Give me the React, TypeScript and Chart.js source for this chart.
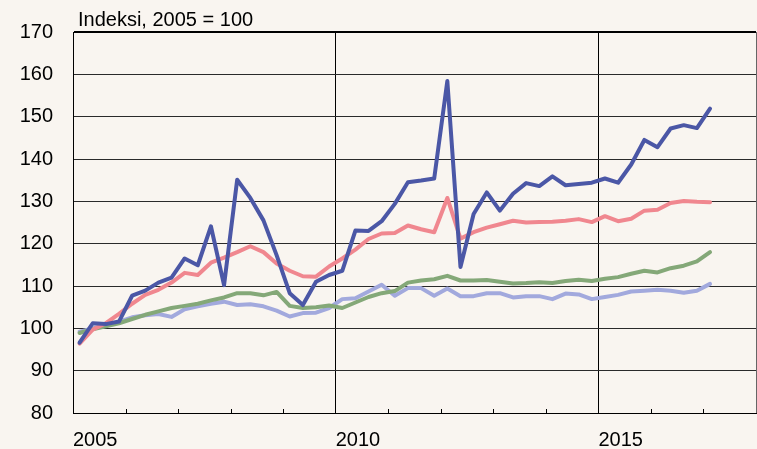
import React, { useEffect, useRef } from "react";
import { Chart, registerables } from "chart.js";

Chart.register(...registerables);

// Quarterly periods 2005Q1 .. 2017Q1
const quarters: string[] = [
  "2005Q1", "2005Q2", "2005Q3", "2005Q4",
  "2006Q1", "2006Q2", "2006Q3", "2006Q4",
  "2007Q1", "2007Q2", "2007Q3", "2007Q4",
  "2008Q1", "2008Q2", "2008Q3", "2008Q4",
  "2009Q1", "2009Q2", "2009Q3", "2009Q4",
  "2010Q1", "2010Q2", "2010Q3", "2010Q4",
  "2011Q1", "2011Q2", "2011Q3", "2011Q4",
  "2012Q1", "2012Q2", "2012Q3", "2012Q4",
  "2013Q1", "2013Q2", "2013Q3", "2013Q4",
  "2014Q1", "2014Q2", "2014Q3", "2014Q4",
  "2015Q1", "2015Q2", "2015Q3", "2015Q4",
  "2016Q1", "2016Q2", "2016Q3", "2016Q4",
  "2017Q1",
];

const seriesBlue: number[] = [
  96.6, 101.2, 101.0, 101.6, 107.7, 108.9, 110.8, 112.0, 116.5, 114.9,
  124.1, 110.2, 135.1, 130.8, 125.5, 117.3, 108.3, 105.5, 111.0, 112.6,
  113.6, 123.1, 123.0, 125.3, 129.4, 134.5, 134.9, 135.4, 158.4, 114.5,
  127.0, 132.1, 127.8, 131.8, 134.3, 133.6, 135.9, 133.8, 134.1, 134.4,
  135.4, 134.4, 138.7, 144.5, 142.8, 147.2, 148.0, 147.3, 151.9,
];

const seriesPink: number[] = [
  96.4, 99.7, 101.2, 103.4, 105.8, 107.9, 109.1, 110.8, 113.1, 112.6,
  115.5, 116.7, 118.0, 119.4, 118.0, 115.3, 113.6, 112.3, 112.2, 114.6,
  116.5, 118.6, 121.1, 122.4, 122.5, 124.3, 123.4, 122.7, 130.8, 121.2,
  122.7, 123.8, 124.6, 125.4, 125.0, 125.1, 125.2, 125.4, 125.8, 125.1,
  126.5, 125.3, 125.9, 127.8, 128.0, 129.6, 130.1, 129.9, 129.8,
];

const seriesGreen: number[] = [
  98.9, 99.8, 100.5, 101.2, 102.2, 103.2, 104.0, 104.8, 105.3, 105.8,
  106.6, 107.3, 108.3, 108.3, 107.8, 108.6, 105.3, 104.8, 105.0, 105.4,
  104.8, 106.1, 107.4, 108.3, 108.8, 110.8, 111.3, 111.6, 112.4, 111.3,
  111.3, 111.4, 111.0, 110.6, 110.7, 110.9, 110.7, 111.2, 111.5, 111.2,
  111.7, 112.1, 112.9, 113.6, 113.2, 114.2, 114.8, 115.8, 118.0,
];

const seriesLavender: number[] = [
  99.2, 100.0, 100.6, 101.6, 102.6, 103.1, 103.4, 102.7, 104.5, 105.2,
  105.8, 106.3, 105.5, 105.7, 105.2, 104.2, 102.8, 103.6, 103.7, 104.8,
  106.9, 107.1, 108.7, 110.3, 107.7, 109.5, 109.5, 107.7, 109.4, 107.6,
  107.6, 108.3, 108.3, 107.3, 107.6, 107.6, 106.9, 108.2, 108.0, 106.9,
  107.4, 107.9, 108.7, 108.9, 109.1, 108.9, 108.4, 108.9, 110.5,
];

const xTickLabels: number[] = [2005, 2010, 2015];
const yMin = 80;
const yMax = 170;
const xMin = 2005;
const xMax = 2018;
const titleText = "Indeksi, 2005 = 100";

const FONT = "'Liberation Sans', Arial, Helvetica, sans-serif";
const BG = "#f9f5f0";

// convert "YYYYQn" to mid-quarter decimal year
const quarterToX = (q: string): number => {
  const year = parseInt(q.slice(0, 4), 10);
  const n = parseInt(q.slice(5), 10);
  return year + (n - 1) / 4 + 0.125;
};

const toPoints = (vals: number[]) =>
  vals.map((v, i) => ({ x: quarterToX(quarters[i]), y: v }));

const lineStyle = {
  borderWidth: 4,
  pointRadius: 0,
  tension: 0,
  borderJoinStyle: "round",
  borderCapStyle: "round",
};

const decorPlugin = {
  id: "decor",
  beforeDraw(chart: any) {
    const { ctx, width, height } = chart;
    ctx.save();
    ctx.fillStyle = BG;
    ctx.fillRect(0, 0, width, height);
    ctx.restore();
  },
  afterDraw(chart: any) {
    const { ctx, chartArea } = chart;
    const xs = chart.scales.x;
    ctx.save();
    // inner year tick marks
    ctx.strokeStyle = "#000";
    ctx.lineWidth = 1;
    for (let yr = xMin + 1; yr < xMax; yr++) {
      if (yr % 5 === 0) continue;
      const px = Math.round(xs.getPixelForValue(yr)) + 0.5;
      ctx.beginPath();
      ctx.moveTo(px, chartArea.bottom);
      ctx.lineTo(px, chartArea.bottom - 4);
      ctx.stroke();
    }
    // title
    ctx.fillStyle = "#000";
    ctx.font = `20px ${FONT}`;
    ctx.textAlign = "left";
    ctx.textBaseline = "alphabetic";
    ctx.fillText(titleText, chartArea.left + 5, chartArea.top - 6);
    ctx.restore();
  },
};

export default function App() {
  const canvasRef = useRef<HTMLCanvasElement | null>(null);

  useEffect(() => {
    document.body.style.margin = "0";
    document.body.style.background = BG;
    const canvas = canvasRef.current;
    if (!canvas) return;
    const chart = new Chart(canvas, {
      type: "line",
      data: {
        datasets: [
          { data: toPoints(seriesBlue), borderColor: "#4b57a6", ...lineStyle },
          { data: toPoints(seriesPink), borderColor: "#f0878f", ...lineStyle },
          { data: toPoints(seriesGreen), borderColor: "#84a878", ...lineStyle },
          { data: toPoints(seriesLavender), borderColor: "#a2a9dd", ...lineStyle },
        ],
      },
      options: {
        responsive: false,
        animation: false,
        events: [],
        layout: { padding: { top: 30, right: 1, left: 0, bottom: 0 } },
        plugins: {
          legend: { display: false },
          tooltip: { enabled: false },
          title: { display: false },
        },
        scales: {
          x: {
            type: "linear",
            min: xMin,
            max: xMax,
            afterBuildTicks: (scale: any) => {
              const t = [];
              for (let yr = xMin; yr <= xMax; yr++) t.push({ value: yr });
              scale.ticks = t;
            },
            afterFit: (scale: any) => {
              scale.height = 36;
              scale.paddingLeft = 0;
              scale.paddingRight = 0;
            },
            ticks: {
              autoSkip: false,
              maxRotation: 0,
              align: "start",
              padding: 15,
              color: "#000",
              font: { family: FONT, size: 20 },
              callback: (v: any) =>
                xTickLabels.includes(Number(v)) ? String(v) : "",
            },
            grid: {
              drawTicks: false,
              lineWidth: 1,
              color: (c: any) => {
                const v = c.tick ? c.tick.value : null;
                if (v === 2010 || v === 2015) return "#000";
                if (v === xMax) return "#666";
                return "rgba(0,0,0,0)";
              },
            },
            border: { display: true, color: "#000", width: 1 },
          },
          y: {
            min: yMin,
            max: yMax,
            afterFit: (scale: any) => {
              scale.width = 73;
            },
            ticks: {
              stepSize: 10,
              padding: 20,
              color: "#000",
              font: { family: FONT, size: 20 },
            },
            grid: {
              drawTicks: false,
              color: (c: any) =>
                c.tick && c.tick.value === yMax ? "#000" : "#2a2a2a",
              lineWidth: (c: any) => (c.tick && c.tick.value === yMax ? 2 : 1),
            },
            border: { display: true, color: "#000", width: 1 },
          },
        },
      },
      plugins: [decorPlugin],
    } as any);
    return () => chart.destroy();
  }, []);

  return (
    <div style={{ width: 757, height: 449, background: BG }}>
      <canvas ref={canvasRef} width={757} height={449} />
    </div>
  );
}
